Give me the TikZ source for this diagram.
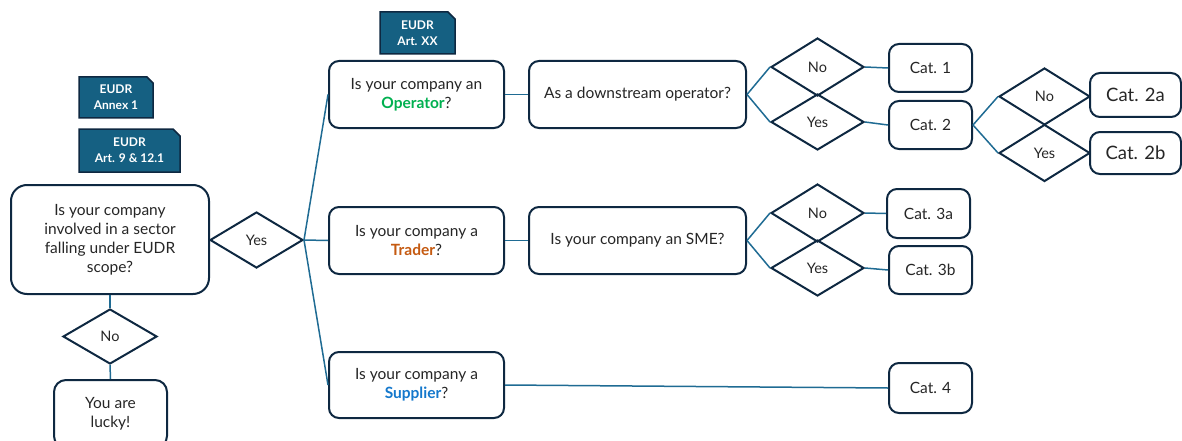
\documentclass[tikz,border=0pt]{standalone}
\usepackage{fontspec}
\setmainfont{Lato}
\usetikzlibrary{shapes.geometric}
\definecolor{navy}{HTML}{0E2841}
\definecolor{tagblue}{HTML}{156082}
\definecolor{lnk}{HTML}{1F6B93}
\definecolor{opgreen}{HTML}{00B050}
\definecolor{trorange}{HTML}{C55A11}
\definecolor{supblue}{HTML}{1478CC}
\definecolor{txt}{HTML}{262626}
\begin{document}
\begin{tikzpicture}[x=1pt,y=-1pt,
  box/.style={draw=navy, line width=2pt, rounded corners=10pt, fill=white, align=center, inner sep=0pt, text=txt, font=\fontsize{15.5}{19}\selectfont},
  dia/.style={draw=navy, line width=2pt, diamond, inner sep=0pt, minimum width=93pt, minimum height=57pt, text=txt, font=\fontsize{14.5}{16}\selectfont},
  link/.style={draw=lnk, line width=1.5pt},
  tagshape/.style={fill=tagblue, draw=navy, line width=1.5pt},
  tagtext/.style={text=white, align=center, inner sep=0pt, font=\fontsize{12}{16}\selectfont\bfseries}]
\useasboundingbox (0,0) rectangle (1182,441);
\clip (0,0) rectangle (1182,441);

% tags
\path[tagshape] (79,77) -- (147,77) -- (153,83) -- (153,118) -- (79,118) -- cycle;
\node[tagtext] (tagA) at (116,97.5) {EUDR\\Annex 1};
\path[tagshape] (79,129) -- (173,129) -- (180,136) -- (180,172) -- (79,172) -- cycle;
\node[tagtext] (tagB) at (129.5,150.5) {EUDR\\Art. 9 \& 12.1};
\path[tagshape] (380,12) -- (448,12) -- (455,19) -- (455,54) -- (380,54) -- cycle;
\node[tagtext] (tagC) at (417.5,33) {EUDR\\Art. XX};

% nodes
\node[box, rounded corners=16pt, minimum width=198pt, minimum height=109pt] (main) at (110,239.5) {Is your company\\involved in a sector\\falling under EUDR\\scope?};
\node[dia, minimum width=93pt, minimum height=56pt] (yes) at (256.5,240) {Yes};
\node[dia, minimum width=94pt, minimum height=55pt] (no) at (110,336.5) {No};
\node[box, rounded corners=12pt, minimum width=113pt, minimum height=68pt] (lucky) at (110.5,414) {You are\\lucky!};

\node[box, minimum width=175pt, minimum height=67pt] (op) at (416.5,94.5) {Is your company an\\\textcolor{opgreen}{\bfseries Operator}?};
\node[box, minimum width=217pt, minimum height=67pt] (down) at (637.5,94.5) {As a downstream operator?};
\node[box, minimum width=175pt, minimum height=67pt] (trader) at (416.5,240.5) {Is your company a\\\textcolor{trorange}{\bfseries Trader}?};
\node[box, minimum width=217pt, minimum height=67pt] (sme) at (637.5,240.5) {Is your company an SME?};
\node[box, minimum width=175pt, minimum height=66pt] (sup) at (416.5,385) {Is your company a\\\textcolor{supblue}{\bfseries Supplier}?};

\node[dia, minimum height=58pt] (d1no) at (817.5,67) {No};
\node[dia, minimum height=56pt] (d1yes) at (817.5,122) {Yes};
\node[box, minimum width=83pt, minimum height=48pt] (cat1) at (930.5,68) {Cat. 1};
\node[box, minimum width=83pt, minimum height=48pt] (cat2) at (930.5,125) {Cat. 2};

\node[dia, minimum width=91pt] (d2no) at (1044.5,96.5) {No};
\node[dia, minimum width=91pt] (d2yes) at (1044.5,153) {Yes};
\node[box, minimum width=91pt, minimum height=44pt, font=\fontsize{18.5}{20}\selectfont] (cat2a) at (1135.5,95) {Cat. 2a};
\node[box, minimum width=91pt, minimum height=42pt, font=\fontsize{18.5}{20}\selectfont] (cat2b) at (1135.5,153) {Cat. 2b};

\node[dia, minimum height=58pt] (d3no) at (817.5,213) {No};
\node[dia, minimum height=56pt] (d3yes) at (817.5,268) {Yes};
\node[box, minimum width=83pt, minimum height=49pt] (cat3a) at (928.5,213.5) {Cat. 3a};
\node[box, minimum width=83pt, minimum height=48pt] (cat3b) at (930.5,270) {Cat. 3b};

\node[box, minimum width=83pt, minimum height=50pt] (cat4) at (930.5,388) {Cat. 4};

% connectors
\draw[link] (yes.east) -- (op.west);
\draw[link] (yes.east) -- (trader.west);
\draw[link] (yes.east) -- (sup.west);
\draw[link] (main.south) -- (no.north);
\draw[link] (no.south) -- (lucky.north);
\draw[link] (op.east) -- (down.west);
\draw[link] (trader.east) -- (sme.west);
\draw[link] (sup.east) -- (cat4.west);
\draw[link] (down.east) -- (d1no.west);
\draw[link] (down.east) -- (d1yes.west);
\draw[link] (d1no.east) -- (cat1.west);
\draw[link] (d1yes.east) -- (cat2.west);
\draw[link] (cat2.east) -- (d2no.west);
\draw[link] (cat2.east) -- (d2yes.west);
\draw[link] (sme.east) -- (d3no.west);
\draw[link] (sme.east) -- (d3yes.west);
\draw[link] (d3no.east) -- (cat3a.west);
\draw[link] (d3yes.east) -- (cat3b.west);
\end{tikzpicture}
\end{document}
